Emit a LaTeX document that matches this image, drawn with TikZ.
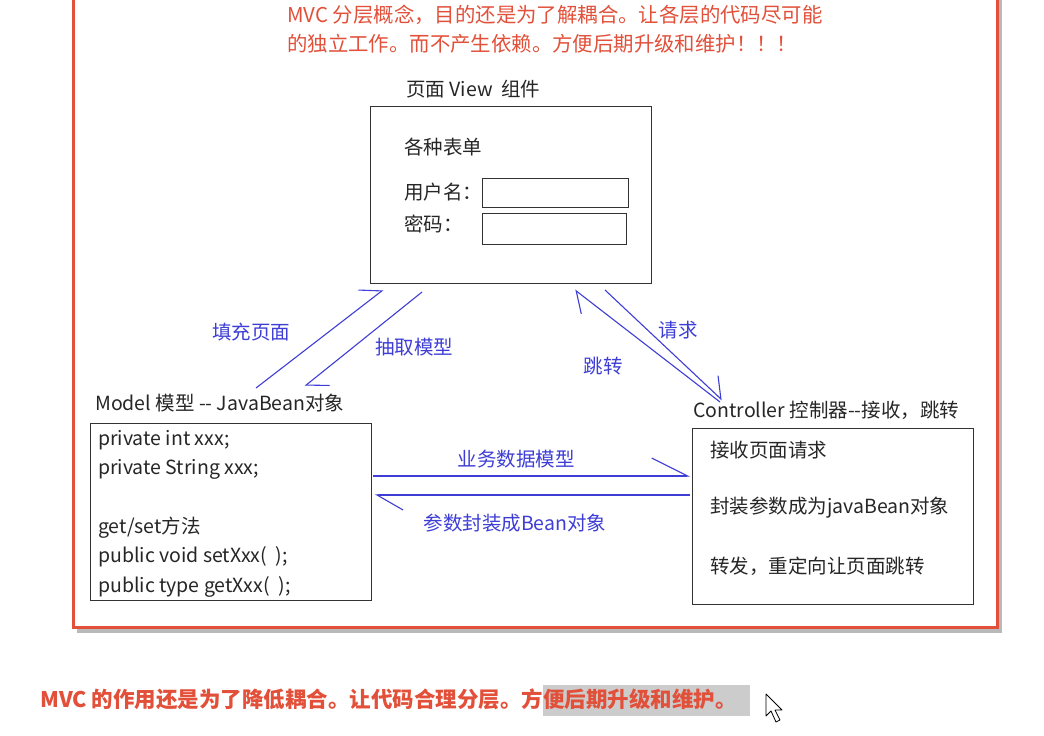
\documentclass[tikz,border=0pt]{standalone}
\usepackage{fontspec}
\setmainfont{Noto Sans CJK SC}
\usepackage{xcolor}
\usetikzlibrary{arrows.meta,positioning,calc}
\definecolor{mvcred}{RGB}{226,80,58}
\definecolor{mvcblue}{RGB}{62,62,214}
\tikzset{
  box/.style={draw=black!80, line width=1.3pt, anchor=north west, inner sep=0pt},
  field/.style={draw=black!80, line width=1.3pt, anchor=north west, inner sep=0pt},
  txt/.style={anchor=west, inner sep=0pt, text=black!85},
  lbl/.style={inner sep=0pt, text=mvcblue, font=\fontsize{19.5}{22}\selectfont},
  flow/.style={mvcblue, line width=1.1pt, -{Straight Barb[harpoon, length=18pt, width=30pt]}}
}

\begin{document}
\begin{tikzpicture}[x=1pt, y=-1pt, font=\fontsize{19.5}{23}\selectfont]
\clip (0,0) rectangle (1044,736);
\fill[white] (0,0) rectangle (1044,736);

% outer frame
\draw[gray!55, line width=4pt] (1000,-5) -- (1000,630.5) -- (77,630.5);
\draw[mvcred, line width=3pt] (73,-10) rectangle (997,627);

\node (note) [anchor=north west, inner sep=0pt, align=left, text=mvcred,
  font=\fontsize{20.4}{29}\selectfont] at (287,5)
  {MVC 分层概念，目的还是为了解耦合。让各层的代码尽可能\\的独立工作。而不产生依赖。方便后期升级和维护！！！};

% view
\node (viewlbl) [txt] at (406,89) {页面 View\ \ 组件};
\node (view) [box, minimum width=281pt, minimum height=177pt] at (370,106) {};
\node (forms) [txt] at (404,147) {各种表单};
\node (user) [txt] at (404,192) {用户名：};
\node (pwd) [txt] at (404,224) {密码：};
\node (userin) [field, minimum width=146pt, minimum height=29pt] at (482,178) {};
\node (pwdin) [field, minimum width=144pt, minimum height=31pt] at (482,213) {};

% model
\node (modellbl) [txt] at (95,403) {Model 模型 -{}- JavaBean对象};
\node (model) [box, minimum width=281pt, minimum height=177pt] at (90,423) {};
\foreach \n/\y/\t in {1/440/{private int xxx;}, 2/469/{private String xxx;},
    3/528/{get/set方法}, 4/557/{public void setXxx(\ \ );}, 5/587/{public type getXxx(\ \ );}}
  \node (m\n) [txt] at (98,\y) {\t};

% controller
\node (ctrllbl) [txt] at (693,410) {Controller 控制器-{}-接收，跳转};
\node (ctrl) [box, minimum width=281pt, minimum height=176pt] at (692,428) {};
\foreach \n/\y/\t in {1/450/{接收页面请求}, 2/508/{封装参数成为javaBean对象}, 3/566/{转发，重定向让页面跳转}}
  \node (c\n) [txt] at (710,\y) {\t};

% connectors
\coordinate (fillS) at (256,388);
\coordinate (fillE) at (383,290);
\coordinate (takeS) at (422,292);
\coordinate (takeE) at (305,386);
\coordinate (jumpS) at (720,402);
\coordinate (jumpE) at (575,290);
\coordinate (reqS) at (605,290);
\coordinate (reqE) at (722,400);
\coordinate (dataS) at (373,476);
\coordinate (dataE) at (690,476);
\coordinate (beanS) at (690,495);
\coordinate (beanE) at (375,495);

\draw[flow] (fillS) -- (fillE);
\draw[flow] (takeS) -- (takeE);
\draw[flow] (jumpS) -- (jumpE);
\draw[flow] (reqS) -- (reqE);
\draw[flow, -{Straight Barb[harpoon, length=36pt, width=36pt]}] (dataS) -- (dataE);
\draw[flow, -{Straight Barb[harpoon, length=26pt, width=30pt]}] (beanS) -- (beanE);

\node (fill) [lbl] at (251,332) {填充页面};
\node (take) [lbl] at (414,347) {抽取模型};
\node (jump) [lbl] at (603,366) {跳转};
\node (req) [lbl] at (678,330) {请求};
\node (data) [lbl] at (516,459) {业务数据模型};
\node (bean) [lbl] at (515,523) {参数封装成Bean对象};

% bottom line
\fill[gray!40] (543,685) rectangle (750,716);
\node (summary) [anchor=west, inner sep=0pt, text=mvcred, font=\fontsize{21.5}{25}\selectfont\bfseries] at (40,699)
  {MVC 的作用还是为了降低耦合。让代码合理分层。方便后期升级和维护。};

% mouse pointer
\draw[fill=white, line width=0.8pt, line join=round] (766,694) -- (766,716) -- (771,711) -- (776,722)
  -- (780,720) -- (775,710) -- (782,710) -- cycle;
\end{tikzpicture}
\end{document}
